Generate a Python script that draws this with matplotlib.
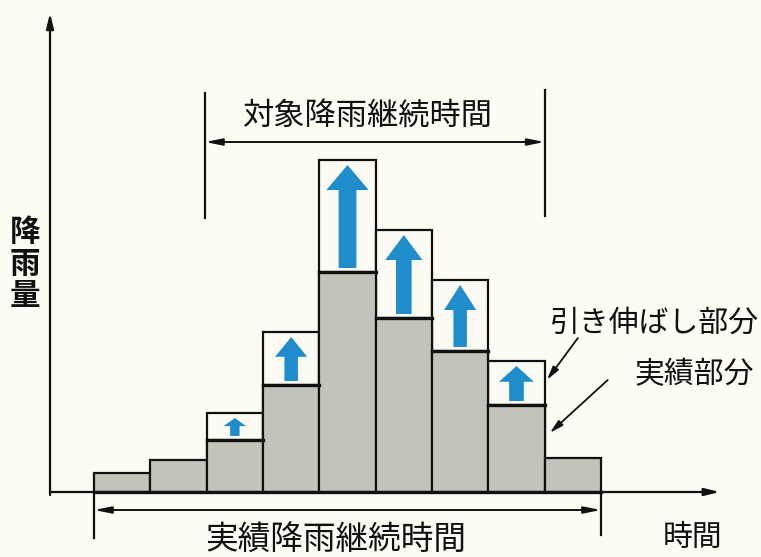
import matplotlib
matplotlib.use("Agg")
import matplotlib.pyplot as plt
from matplotlib.patches import FancyArrow

plt.rcParams['font.family'] = ['Noto Sans CJK JP', 'DejaVu Sans']

# ---- data ----
actual = [1.9, 3.2, 5.2, 10.7, 22.0, 17.4, 14.1, 8.7, 3.4]      # 実績部分
stretch_idx = [2, 3, 4, 5, 6, 7]                                  # 対象降雨継続時間 bars
stretched = [7.9, 16.0, 33.2, 26.2, 21.2, 13.1]                   # 引き伸ばし後
arrow_head_w = [0.40, 0.57, 0.75, 0.66, 0.57, 0.62]               # visual only

labels = {
    'target': '対象降雨継続時間',
    'actual_dur': '実績降雨継続時間',
    'stretch': '引き伸ばし部分',
    'actual': '実績部分',
    'time': '時間',
    'rain': '降\n雨\n量',
}

BG = '#fdfcf2'
GRAY = '#c3c4b9'
BLUE = '#1f8dcb'

fig = plt.figure(figsize=(7.61, 5.57), dpi=100, facecolor=BG)
ax = fig.add_axes([0, 0, 1, 1])
ax.set_facecolor(BG)
ax.set_xlim(-1.669, 11.841)
ax.set_ylim(-6.5, 49.2)
ax.axis('off')

n = len(actual)
xs = list(range(n))

# stretched (white) boxes
for i, h in zip(stretch_idx, stretched):
    ax.bar(i, h, width=1.0, align='edge', color='#fbfbf4', edgecolor='#111111',
           linewidth=1.6, zorder=2)
# actual (gray) bars
ax.bar(xs, actual, width=1.0, align='edge', color=GRAY, edgecolor='#111111',
       linewidth=1.6, zorder=3)
# thicker top line on gray portion of stretched bars
for i in stretch_idx:
    ax.plot([i, i + 1], [actual[i], actual[i]], color='#111111', lw=2.4, zorder=4)

# blue block arrows
for i, h, hw in zip(stretch_idx, stretched, arrow_head_w):
    y0 = actual[i] + 0.4
    length = h - actual[i] - 0.9
    hl = min(2.5, length * 0.45)
    ax.add_patch(FancyArrow(i + 0.5, y0, 0, length, width=hw * 0.42,
                            head_width=hw, head_length=hl,
                            length_includes_head=True, color=BLUE, lw=0, zorder=5))

# axes arrows
arrow_kw = dict(arrowstyle='-|>,head_length=0.9,head_width=0.22', color='#111111',
                lw=1.6, shrinkA=0, shrinkB=0)
ax.annotate('', xy=(-0.781, 47.9), xytext=(-0.781, -0.3), arrowprops=arrow_kw, zorder=6)
ax.annotate('', xy=(11.11, 0), xytext=(-0.781, 0), arrowprops=arrow_kw, zorder=1)
ax.plot([0, 9], [0, 0], color='#111111', lw=2.4, zorder=6)

# top dimension line (対象降雨継続時間)
x_t0, x_t1 = stretch_idx[0], stretch_idx[-1] + 1
dim_kw = dict(arrowstyle='<|-|>,head_length=1.0,head_width=0.2', color='#111111',
              lw=1.4, shrinkA=0, shrinkB=0)
ax.annotate('', xy=(x_t1, 35.0), xytext=(x_t0 - 0.03, 35.0), arrowprops=dim_kw)
ax.plot([x_t0 - 0.03] * 2, [27.4, 39.9], color='#111111', lw=1.6)
ax.plot([x_t1] * 2, [27.6, 40.2], color='#111111', lw=1.6)
ax.text((x_t0 + x_t1) / 2 - 0.13, 37.6, labels['target'], ha='center', va='center',
        fontsize=22.5, color='#111111')

# bottom dimension line (実績降雨継続時間)
ax.annotate('', xy=(n, -1.8), xytext=(0, -1.8), arrowprops=dim_kw)
ax.plot([0, 0], [0, -4.6], color='#111111', lw=1.6)
ax.plot([n, n], [0, -4.3], color='#111111', lw=1.6)
ax.text(4.3, -4.75, labels['actual_dur'], ha='center', va='center',
        fontsize=23.5, color='#111111')

# side labels
ax.text(8.1, 16.9, labels['stretch'], ha='left', va='center', fontsize=21.5, color='#111111')
ax.text(9.6, 11.7, labels['actual'], ha='left', va='center', fontsize=21.5, color='#111111')
ax.text(10.1, -4.5, labels['time'], ha='left', va='center', fontsize=21.5, color='#111111')
ax.text(-1.225, 22.8, labels['rain'], ha='center', va='center', fontsize=22,
        linespacing=1.0, color='#111111', fontweight='bold')

# leader arrows
lead_kw = dict(arrowstyle='-|>,head_length=0.8,head_width=0.2', color='#111111',
               lw=1.3, shrinkA=0, shrinkB=0)
ax.annotate('', xy=(8.04, 11.2), xytext=(8.59, 15.4), arrowprops=lead_kw)
ax.annotate('', xy=(8.09, 5.9), xytext=(9.12, 11.2), arrowprops=lead_kw)

fig.savefig('out.png', dpi=100, facecolor=BG)
